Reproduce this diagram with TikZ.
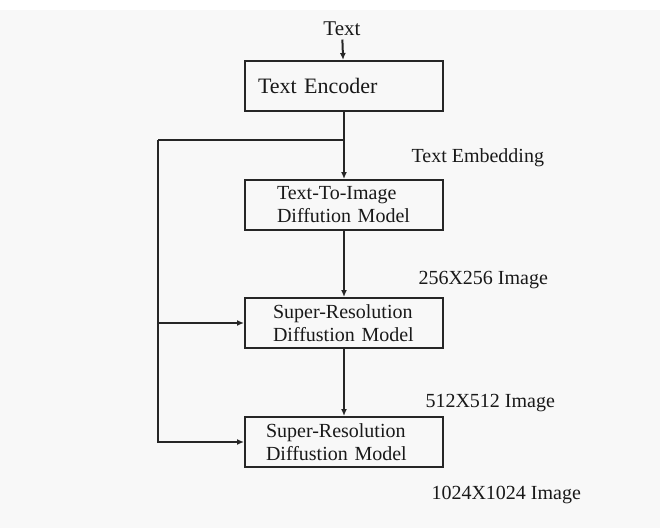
\documentclass[tikz,border=0pt]{standalone}
\usepackage{fontspec}
\setmainfont{Liberation Serif}
\usetikzlibrary{arrows.meta}

\definecolor{paper}{RGB}{248,248,248}
\tikzset{
  box/.style={draw=black!85, line width=2pt, minimum height=50pt, align=left,
    text=black!90, font=\fontsize{20}{23}\selectfont},
  lbl/.style={anchor=base west, font=\fontsize{20}{23}\selectfont, text=black!90},
  arr/.style={draw=black!85, line width=2pt, -{Latex[length=7pt,width=6pt]}},
  wire/.style={draw=black!85, line width=2pt}
}

\begin{document}
\begin{tikzpicture}[x=1pt, y=-1pt]
  % page
  \useasboundingbox (0,0) rectangle (660,528);
  \fill[paper] (0,10) rectangle (660,528);
  \fill[white] (0,0) rectangle (660,10);

  % --- input and encoder ---
  \node[font=\fontsize{21}{23}\selectfont, text=black!90] (txt) at (342,29) {Text};
  \node[box, inner xsep=13pt, text width=172pt, font=\fontsize{22}{24}\selectfont]
      (enc) at (344,86) {Text Encoder};

  % --- diffusion stages ---
  \node[box, inner xsep=32pt, text width=134pt] (t2i) at (344,205)
      {Text-To-Image\\Diffution Model};
  \node[box, inner xsep=28pt, text width=142pt] (sr1) at (344,323)
      {Super-Resolution\\Diffustion Model};
  \node[box, inner xsep=21pt, text width=156pt] (sr2) at (344,442)
      {Super-Resolution\\Diffustion Model};

  % --- side labels ---
  \node[lbl] (emb) at (408,162) {Text Embedding};
  \node[lbl] (img256) at (415,284) {256X256 Image};
  \node[lbl] (img512) at (422,407) {512X512 Image};
  \node[lbl] (img1024) at (428,499) {1024X1024 Image};

  % --- connectors ---
  \draw[arr] (txt) -- (enc);
  \draw[arr] (enc) -- (t2i);
  \draw[arr] (t2i) -- (sr1);
  \draw[arr] (sr1) -- (sr2);

  % embedding fed to the super-resolution stages
  \coordinate (split) at (enc.south |- 0,140);
  \coordinate (corner) at (158,140);
  \draw[wire] (split) -- (corner);
  \draw[arr] (corner) |- (sr2.west);
  \draw[arr] (corner |- sr1.west) -- (sr1.west);
\end{tikzpicture}
\end{document}
